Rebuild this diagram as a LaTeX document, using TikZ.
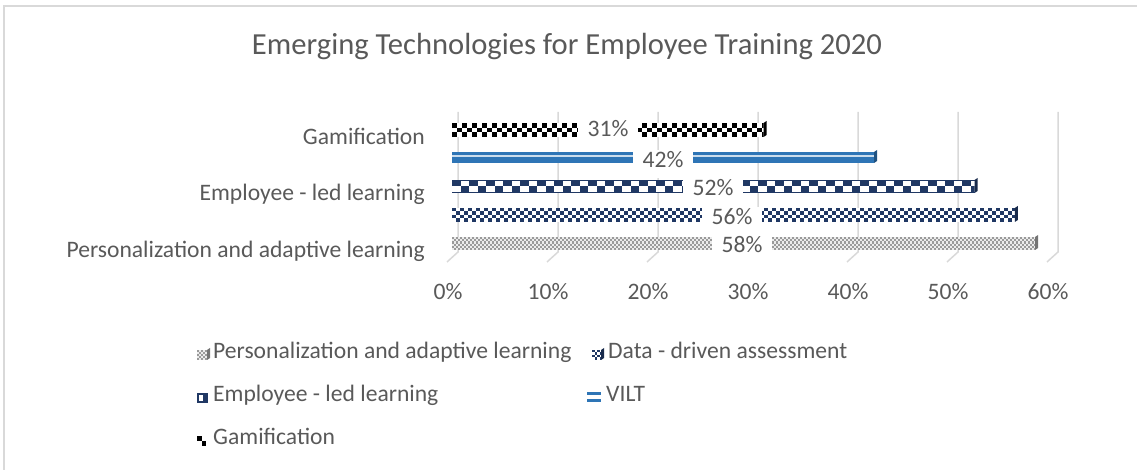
\documentclass[tikz,border=0pt]{standalone}
\usepackage{fontspec}
\setmainfont{Carlito}
\definecolor{txt}{HTML}{595959}
\definecolor{gridc}{HTML}{D9D9D9}
\definecolor{navy}{HTML}{203864}
\definecolor{vilt}{HTML}{2E75B6}
\definecolor{pgray}{HTML}{9A9A9A}
\newcommand\checkbar[8]{%
  \begin{scope}
    \clip (#1,#3) rectangle (#2,#4);
    \fill[#8] (#1,#3) rectangle (#2,#4);
    \pgfmathtruncatemacro\ncol{ceil((#2-#1)/#5)}
    \pgfmathtruncatemacro\nrow{ceil((#4-#3)/#6)}
    \foreach \jj in {0,...,\nrow}{%
      \pgfmathtruncatemacro\sa{mod(\jj,2)}%
      \pgfmathtruncatemacro\sb{\sa+2}%
      \foreach \ii in {\sa,\sb,...,\ncol}{%
        \fill[#7] ({#1+\ii*#5},{#3+\jj*#6}) rectangle ++(#5,#6);}}
  \end{scope}
  \fill[#7!75!black] (#2,#3) -- ++(3,-2) -- ++(0,{#4-#3}) -- ++(-3,2) -- cycle;
}
\tikzset{
  lab/.style={text=txt, font=\fontsize{23.6bp}{28bp}\selectfont, inner sep=0pt, text height=0.63em, text depth=0pt},
  dlab/.style={lab, fill=white, minimum width=60bp, minimum height=28bp},
  ttl/.style={text=txt, font=\fontsize{30.6bp}{36bp}\selectfont, inner sep=0pt, text height=0.63em, text depth=0pt},
  gridl/.style={draw=gridc, line width=1.5bp},
}
\begin{document}
\begin{tikzpicture}[x=1bp,y=-1bp]
\useasboundingbox (0,0) rectangle (1137,470);
\draw[gridc, line width=1.5bp] (4,470) -- (4,6) -- (1137,6);
% title
\node[ttl] (title) at (567,51) {Emerging Technologies for Employee Training 2020};
% gridlines
\foreach \k in {0,...,6}{
  \draw[gridl] ({458+100*\k},112) -- ({458+100*\k},252) -- ({447+100*\k},262);
}
% axis labels
\foreach \k in {0,...,6}{
  \pgfmathtruncatemacro\v{10*\k}
  \node[lab] (ax\k) at ({448+100*\k},296) {\v\%};
}
% category labels
\node[lab, anchor=east] (cg) at (425,141) {Gamification};
\node[lab, anchor=east] (ce) at (425,197) {Employee - led learning};
\node[lab, anchor=east] (cp) at (425,254) {Personalization and adaptive learning};
% bars
\checkbar{452}{763.5}{123}{137}{5}{4.67}{black}{white}
\fill[vilt] (452,152) rectangle (874,163);
\draw[white!75!vilt, line width=1.5bp] (452,156) -- (874,156);
\fill[vilt!70!black] (874,152) -- ++(3,-2) -- ++(0,11) -- ++(-3,2) -- cycle;
\checkbar{452}{974.6}{180}{193}{8.5}{6.5}{navy}{white}
\draw[navy, line width=1.2bp] (452,180.6) -- (974.6,180.6) (452,192.4) -- (974.6,192.4);
\checkbar{452}{1014.8}{208}{222}{4}{3.5}{navy}{white}
\checkbar{452}{1035}{237}{250}{2}{2.17}{pgray}{white!92!black}
% data labels
\node[dlab] (d31) at (608,133) {31\%};
\node[dlab] (d42) at (663,164) {42\%};
\node[dlab] (d52) at (713,192) {52\%};
\node[dlab] (d56) at (732,221) {56\%};
\node[dlab] (d58) at (742,249) {58\%};
% legend
\checkbar{197}{207}{350}{360}{2}{2}{pgray}{white!92!black}
\node[lab, anchor=west] (lp) at (213,355) {Personalization and adaptive learning};
\checkbar{592}{601}{350}{360}{2.5}{2.5}{navy}{white}
\node[lab, anchor=west] (ld) at (608,355) {Data - driven assessment};
\fill[navy] (197,393) rectangle (208,403);
\fill[white] (199,395) rectangle (203,401);
\node[lab, anchor=west] (le) at (213,398) {Employee - led learning};
\fill[vilt] (587,392) rectangle (601,395.5);
\fill[vilt] (587,399) rectangle (601,402.5);
\node[lab, anchor=west] (lv) at (606,398) {VILT};
\fill[black] (197,436) rectangle (201.5,441);
\fill[black] (201.5,441) rectangle (206,446);
\node[lab, anchor=west] (lg) at (213,441) {Gamification};
\end{tikzpicture}
\end{document}
